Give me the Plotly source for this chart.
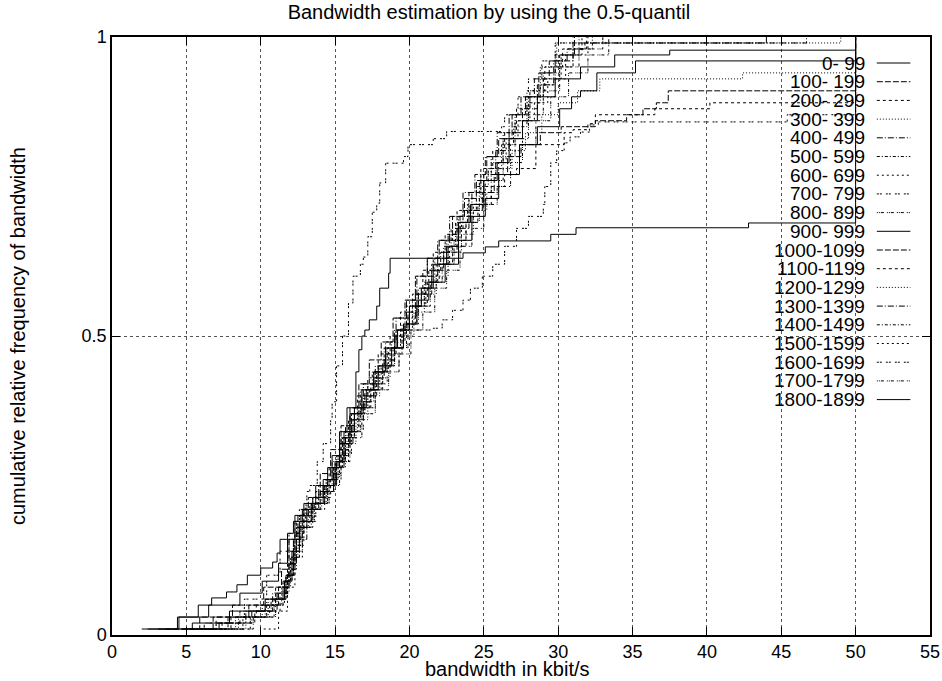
import plotly.graph_objects as go

# interval labels (legend), in gnuplot order
labels = ["0- 99", "100- 199", "200- 299", "300- 399", "400- 499", "500- 599",
          "600- 699", "700- 799", "800- 899", "900- 999", "1000-1099", "1100-1199",
          "1200-1299", "1300-1399", "1400-1499", "1500-1599", "1600-1699",
          "1700-1799", "1800-1899"]

# step points of each cumulative curve: bandwidth (kbit/s) and cumulative frequency
bw_0 = [3.1, 5.4, 7.9, 10.3, 11.6, 12.1, 12.6, 13.4, 14.2, 15.0, 15.6, 16.3, 17.1, 17.9, 18.8, 19.6,
        20.5, 21.3, 22.4, 23.3, 24.2, 25.1, 26.0, 27.4, 28.6, 30.1, 30.9, 31.5, 32.6, 35.2, 50.0]
cf_0 = [0.01, 0.02, 0.04, 0.06, 0.09, 0.14, 0.19, 0.22, 0.25, 0.29, 0.34, 0.38, 0.41, 0.45, 0.48, 0.52,
        0.56, 0.59, 0.62, 0.66, 0.70, 0.73, 0.77, 0.82, 0.85, 0.88, 0.90, 0.91, 0.94, 0.96, 1.0]

bw_1 = [4.6, 6.8, 9.2, 11.2, 11.9, 12.4, 13.1, 14.0, 14.9, 15.5, 16.1, 16.8, 17.6, 18.4, 19.1, 19.9,
        20.6, 21.5, 22.3, 23.2, 24.0, 24.9, 25.7, 26.6, 27.5, 28.8, 30.2, 32.5, 34.6, 35.7, 36.6, 37.4, 50.0]
cf_1 = [0.01, 0.03, 0.05, 0.08, 0.12, 0.18, 0.21, 0.24, 0.28, 0.33, 0.37, 0.40, 0.44, 0.47, 0.51, 0.54,
        0.57, 0.61, 0.64, 0.68, 0.71, 0.74, 0.77, 0.80, 0.82, 0.84, 0.85, 0.86, 0.87, 0.88, 0.89, 0.91, 1.0]

bw_2 = [5.6, 7.4, 9.6, 11.3, 11.8, 12.3, 12.9, 13.8, 14.7, 15.4, 16.0, 16.6, 17.4, 18.2, 19.0, 19.7,
        20.5, 21.2, 22.0, 22.9, 23.8, 24.6, 25.5, 26.4, 27.2, 28.5, 30.4, 31.0, 32.0, 32.5, 36.5, 40.2, 50.0]
cf_2 = [0.01, 0.02, 0.04, 0.07, 0.11, 0.17, 0.21, 0.23, 0.27, 0.31, 0.35, 0.39, 0.42, 0.46, 0.49, 0.52,
        0.55, 0.59, 0.62, 0.65, 0.69, 0.72, 0.75, 0.77, 0.78, 0.82, 0.84, 0.845, 0.855, 0.87, 0.88, 0.89, 1.0]

bw_3 = [6.0, 8.3, 10.1, 11.4, 12.0, 12.5, 13.2, 14.1, 15.0, 15.7, 16.4, 17.2, 18.0, 18.7, 19.5, 20.3,
        21.0, 21.8, 22.6, 23.5, 24.3, 25.2, 26.0, 26.9, 27.8, 28.9, 30.0, 31.3, 32.8, 42.4, 50.0]
cf_3 = [0.01, 0.03, 0.05, 0.08, 0.13, 0.18, 0.21, 0.24, 0.28, 0.32, 0.36, 0.40, 0.43, 0.47, 0.50, 0.54,
        0.57, 0.60, 0.64, 0.67, 0.71, 0.74, 0.78, 0.81, 0.84, 0.87, 0.89, 0.91, 0.93, 0.94, 1.0]

bw_4 = [5.2, 7.0, 9.0, 10.8, 11.7, 12.2, 12.7, 13.5, 14.4, 15.1, 15.7, 16.3, 16.9, 17.7, 18.4, 19.1,
        19.8, 20.5, 21.2, 21.9, 22.7, 23.6, 24.4, 25.1, 25.9, 26.7, 27.5, 28.4, 29.4, 30.6, 31.8, 46.7]
cf_4 = [0.01, 0.02, 0.04, 0.07, 0.10, 0.16, 0.20, 0.23, 0.26, 0.30, 0.35, 0.38, 0.42, 0.45, 0.49, 0.53,
        0.56, 0.60, 0.63, 0.66, 0.70, 0.74, 0.77, 0.80, 0.84, 0.87, 0.90, 0.93, 0.96, 0.98, 0.99, 1.0]

bw_5 = [5.9, 8.0, 10.4, 11.5, 11.9, 12.4, 13.0, 13.9, 14.8, 15.4, 16.0, 16.7, 17.5, 18.3, 19.0, 19.8,
        20.6, 21.3, 22.1, 22.8, 23.6, 24.5, 25.3, 26.2, 27.0, 27.9, 28.8, 29.8, 31.0, 32.3]
cf_5 = [0.01, 0.03, 0.06, 0.09, 0.14, 0.19, 0.22, 0.25, 0.29, 0.33, 0.37, 0.41, 0.44, 0.48, 0.51, 0.55,
        0.58, 0.61, 0.64, 0.68, 0.71, 0.75, 0.78, 0.82, 0.85, 0.89, 0.92, 0.95, 0.98, 1.0]

bw_6 = [6.3, 8.8, 10.6, 11.6, 12.1, 12.6, 13.3, 14.3, 15.1, 15.9, 16.6, 17.3, 18.1, 18.9, 19.6, 20.4,
        21.1, 21.9, 22.7, 23.4, 24.1, 25.0, 25.8, 26.5, 27.3, 28.1, 29.0, 30.2, 31.6]
cf_6 = [0.01, 0.03, 0.05, 0.09, 0.13, 0.18, 0.22, 0.25, 0.29, 0.34, 0.38, 0.41, 0.45, 0.48, 0.52, 0.55,
        0.59, 0.62, 0.66, 0.69, 0.72, 0.76, 0.79, 0.83, 0.86, 0.90, 0.93, 0.97, 1.0]

bw_7 = [6.7, 9.3, 10.9, 11.8, 12.3, 12.9, 13.7, 14.6, 15.4, 16.1, 16.9, 17.7, 18.5, 19.3, 19.9, 21.6,
        22.2, 22.9, 23.6, 24.1, 24.9, 25.6, 26.4, 27.2, 28.0, 29.0, 29.1, 29.5, 29.9, 30.4, 30.8, 31.5,
        32.1, 32.7, 45.4, 50.0]
cf_7 = [0.01, 0.03, 0.06, 0.10, 0.15, 0.19, 0.22, 0.26, 0.30, 0.34, 0.38, 0.42, 0.45, 0.48, 0.51, 0.513,
        0.527, 0.543, 0.56, 0.58, 0.60, 0.62, 0.65, 0.68, 0.70, 0.72, 0.75, 0.79, 0.81, 0.823, 0.833, 0.841,
        0.853, 0.858, 0.87, 1.0]

bw_8 = [4.0, 6.2, 8.6, 10.7, 11.7, 12.2, 12.8, 13.6, 14.5, 15.3, 16.0, 16.8, 17.7, 18.6, 19.3, 20.1,
        20.9, 21.7, 22.5, 23.4, 24.2, 25.0, 25.9, 26.8, 27.6, 28.5, 29.5, 30.7, 32.0, 33.4]
cf_8 = [0.01, 0.02, 0.04, 0.06, 0.10, 0.15, 0.19, 0.22, 0.25, 0.29, 0.33, 0.37, 0.41, 0.44, 0.47, 0.51,
        0.54, 0.58, 0.61, 0.65, 0.68, 0.72, 0.75, 0.79, 0.82, 0.86, 0.90, 0.94, 0.97, 1.0]

bw_9 = [2.0, 4.4, 5.8, 6.7, 7.7, 8.4, 9.1, 10.0, 10.8, 11.1, 11.3, 11.8, 12.2, 12.8, 13.5, 14.2,
        14.8, 15.3, 15.8, 16.4, 16.6, 16.8, 17.0, 17.3, 17.8, 18.0, 18.6, 18.7, 23.6, 25.1, 26.0, 29.5,
        31.2, 42.8, 50.0]
cf_9 = [0.01, 0.03, 0.05, 0.062, 0.072, 0.084, 0.10, 0.112, 0.122, 0.137, 0.16, 0.17, 0.19, 0.21, 0.23, 0.26,
        0.30, 0.34, 0.38, 0.44, 0.477, 0.50, 0.51, 0.527, 0.55, 0.58, 0.605, 0.63, 0.639, 0.649, 0.659, 0.67,
        0.681, 0.689, 1.0]

bw_10 = [3.6, 5.9, 8.1, 10.2, 11.4, 11.9, 12.5, 13.2, 14.0, 14.7, 15.4, 16.0, 16.6, 17.3, 18.1, 18.9,
         19.7, 20.4, 21.2, 22.0, 22.9, 23.7, 24.5, 25.2, 26.0, 26.9, 27.8, 28.7, 29.8, 31.1]
cf_10 = [0.01, 0.03, 0.05, 0.08, 0.11, 0.16, 0.20, 0.23, 0.27, 0.31, 0.35, 0.38, 0.42, 0.46, 0.49, 0.53,
         0.56, 0.60, 0.63, 0.66, 0.70, 0.73, 0.76, 0.80, 0.83, 0.87, 0.90, 0.94, 0.97, 1.0]

bw_11 = [5.5, 7.8, 9.7, 11.0, 11.8, 12.3, 12.9, 13.7, 14.6, 15.3, 15.9, 16.5, 17.2, 17.9, 18.7, 19.4,
         20.2, 20.9, 21.6, 22.4, 23.2, 24.0, 24.8, 25.6, 26.4, 27.2, 28.1, 29.1, 30.3, 31.9]
cf_11 = [0.01, 0.03, 0.05, 0.08, 0.12, 0.17, 0.21, 0.24, 0.28, 0.32, 0.36, 0.40, 0.43, 0.47, 0.50, 0.54,
         0.57, 0.61, 0.64, 0.67, 0.71, 0.74, 0.78, 0.81, 0.84, 0.88, 0.91, 0.95, 0.98, 1.0]

bw_12 = [6.6, 9.0, 10.5, 11.7, 12.2, 12.8, 13.6, 14.4, 15.2, 15.8, 16.5, 17.2, 18.0, 18.8, 19.5, 20.2,
         21.0, 21.7, 22.5, 23.3, 24.0, 24.8, 25.5, 26.3, 27.1, 27.9, 28.8, 29.9, 49.0]
cf_12 = [0.01, 0.03, 0.06, 0.10, 0.14, 0.19, 0.22, 0.26, 0.30, 0.34, 0.38, 0.42, 0.45, 0.49, 0.52, 0.56,
         0.59, 0.63, 0.66, 0.70, 0.73, 0.77, 0.80, 0.84, 0.87, 0.91, 0.95, 0.99, 1.0]

bw_13 = [5.0, 7.2, 9.4, 11.1, 11.9, 12.4, 13.1, 13.9, 14.9, 15.6, 16.2, 16.9, 17.6, 18.3, 19.0, 19.7,
         20.4, 21.1, 21.9, 22.6, 23.4, 24.2, 25.0, 25.8, 26.7, 27.6, 28.6, 29.7, 31.0, 44.0]
cf_13 = [0.01, 0.02, 0.04, 0.07, 0.11, 0.16, 0.21, 0.24, 0.28, 0.32, 0.36, 0.39, 0.43, 0.46, 0.50, 0.53,
         0.57, 0.60, 0.63, 0.67, 0.70, 0.74, 0.77, 0.81, 0.84, 0.88, 0.92, 0.96, 0.99, 1.0]

bw_14 = [6.1, 8.5, 10.3, 11.5, 12.0, 12.6, 13.4, 14.3, 15.1, 15.7, 16.3, 17.0, 17.8, 18.5, 19.2, 20.0,
         20.8, 21.5, 22.3, 23.1, 23.9, 24.7, 25.5, 26.3, 27.1, 28.0, 29.0, 30.1, 31.4]
cf_14 = [0.01, 0.03, 0.05, 0.09, 0.13, 0.18, 0.22, 0.25, 0.29, 0.33, 0.37, 0.40, 0.44, 0.48, 0.51, 0.55,
         0.58, 0.62, 0.65, 0.69, 0.72, 0.76, 0.79, 0.83, 0.86, 0.90, 0.94, 0.97, 1.0]

bw_15 = [10.2, 11.2, 11.8, 12.3, 12.8, 13.5, 14.3, 15.0, 15.6, 16.3, 17.0, 17.8, 18.6, 19.4, 20.2, 21.0,
         21.8, 22.6, 23.5, 24.3, 25.1, 26.0, 26.8, 27.6, 28.4, 29.3, 30.5, 32.0]
cf_15 = [0.01, 0.04, 0.08, 0.13, 0.18, 0.21, 0.25, 0.29, 0.33, 0.37, 0.41, 0.44, 0.48, 0.51, 0.55, 0.58,
         0.62, 0.65, 0.69, 0.72, 0.76, 0.79, 0.82, 0.86, 0.89, 0.93, 0.97, 1.0]

bw_16 = [4.8, 7.0, 8.9, 10.4, 11.3, 11.9, 12.3, 12.6, 13.1, 13.3, 13.8, 14.2, 14.7, 14.8, 15.1, 15.5,
         15.9, 16.2, 16.7, 16.9, 17.2, 17.5, 17.8, 18.0, 18.4, 19.6, 19.9, 21.6, 22.5, 26.2, 26.4, 27.3,
         28.0, 28.9, 29.8, 31.0]
cf_16 = [0.01, 0.03, 0.06, 0.10, 0.14, 0.17, 0.19, 0.21, 0.24, 0.25, 0.29, 0.32, 0.36, 0.39, 0.45, 0.50,
         0.555, 0.60, 0.62, 0.632, 0.666, 0.707, 0.722, 0.756, 0.789, 0.80, 0.82, 0.83, 0.842, 0.85, 0.87, 0.90,
         0.93, 0.96, 0.99, 1.0]

bw_17 = [7.1, 9.5, 11.0, 11.7, 12.2, 12.7, 13.5, 14.5, 15.2, 15.9, 16.7, 17.4, 18.2, 19.0, 19.8, 20.6,
         21.4, 22.2, 23.0, 23.8, 24.7, 25.5, 26.3, 27.1, 28.0, 29.0, 30.1, 31.4, 33.0]
cf_17 = [0.01, 0.03, 0.06, 0.10, 0.15, 0.19, 0.22, 0.26, 0.30, 0.34, 0.38, 0.41, 0.45, 0.48, 0.52, 0.55,
         0.59, 0.62, 0.66, 0.69, 0.73, 0.76, 0.80, 0.83, 0.87, 0.91, 0.95, 0.98, 1.0]

bw_18 = [2.4, 4.5, 6.5, 8.6, 10.1, 11.2, 11.8, 12.3, 12.9, 13.7, 14.5, 15.3, 16.0, 16.8, 17.6, 18.4,
         19.2, 20.0, 20.8, 21.6, 22.5, 23.3, 24.1, 25.0, 25.9, 26.7, 27.6, 28.6, 29.8, 31.5, 33.8, 37.5, 50.0]
cf_18 = [0.01, 0.03, 0.05, 0.07, 0.09, 0.12, 0.16, 0.20, 0.22, 0.25, 0.28, 0.32, 0.37, 0.41, 0.44, 0.48,
         0.51, 0.55, 0.58, 0.62, 0.65, 0.69, 0.72, 0.76, 0.79, 0.83, 0.86, 0.90, 0.93, 0.95, 0.97, 0.978, 1.0]

bws = [bw_0, bw_1, bw_2, bw_3, bw_4, bw_5, bw_6, bw_7, bw_8, bw_9,
       bw_10, bw_11, bw_12, bw_13, bw_14, bw_15, bw_16, bw_17, bw_18]
cfs = [cf_0, cf_1, cf_2, cf_3, cf_4, cf_5, cf_6, cf_7, cf_8, cf_9,
       cf_10, cf_11, cf_12, cf_13, cf_14, cf_15, cf_16, cf_17, cf_18]

# gnuplot postscript line types 1..9, repeating
dashes = ["solid", "6px,2px", "3px,3px", "1px,2px", "6px,2px,1px,2px",
          "3px,2px,1px,2px", "2px,3px", "2px,1px,2px,4px", "1px,1px,1px,1px,3px,3px"]

FONT = "Liberation Sans, Arial, sans-serif"

fig = go.Figure()
for i, lab in enumerate(labels):
    fig.add_trace(go.Scatter(x=bws[i], y=cfs[i], mode="lines", name=lab,
                             line=dict(color="black", width=1, shape="hv", dash=dashes[i % 9])))

# gnuplot-style key: right-aligned text, sample line to the right
shapes = []
annos = []
for i, lab in enumerate(labels):
    yp = 0.9565 - i * 0.03127
    annos.append(dict(x=0.9225, y=yp, xref="paper", yref="paper", text=lab, showarrow=False,
                      xanchor="right", yanchor="middle", font=dict(size=19, color="black", family=FONT)))
    shapes.append(dict(type="line", xref="paper", yref="paper", x0=0.935, x1=0.976, y0=yp, y1=yp,
                       line=dict(color="black", width=1, dash=dashes[i % 9])))

annos.append(dict(x=0.483, y=-0.0565, xref="paper", yref="paper", text="bandwidth in kbit/s",
                  showarrow=False, xanchor="center", yanchor="middle",
                  font=dict(size=20, color="black", family=FONT)))
annos.append(dict(x=-0.1149, y=0.5, xref="paper", yref="paper", text="cumulative relative frequency of bandwidth",
                  showarrow=False, xanchor="center", yanchor="middle", textangle=-90,
                  font=dict(size=20, color="black", family=FONT)))

fig.update_layout(
    width=942, height=681, autosize=False,
    margin=dict(l=112, r=12, t=37, b=46),
    plot_bgcolor="white", paper_bgcolor="white",
    showlegend=False,
    title=dict(text="Bandwidth estimation by using the 0.5-quantil", x=0.519, xref="container",
               xanchor="center", y=0.982, yanchor="middle",
               font=dict(size=20, color="black", family=FONT)),
    shapes=shapes, annotations=annos,
    font=dict(family=FONT, color="black"),
)
fig.update_xaxes(range=[0, 55], tickmode="array", tickvals=list(range(0, 56, 5)), automargin=False,
                 ticks="inside", ticklen=8, tickcolor="black", showline=True, linecolor="black",
                 linewidth=1.5, mirror="ticks", showgrid=True, gridcolor="#555555", griddash="dot",
                 gridwidth=1, zeroline=False, tickfont=dict(size=18, family=FONT, color="black"))
fig.update_yaxes(range=[0, 1], tickmode="array", tickvals=[0, 0.5, 1], ticktext=["0", "0.5", "1"],
                 automargin=False,
                 ticks="inside", ticklen=8, tickcolor="black", showline=True, linecolor="black",
                 linewidth=1.5, mirror="ticks", showgrid=True, gridcolor="#555555", griddash="dot",
                 gridwidth=1, zeroline=False, tickfont=dict(size=18, family=FONT, color="black"))

# no page margin or scrollbars, so the figure sits at the window's corner at full size
fig.write_html("out.html", config={"displayModeBar": False, "responsive": False},
               post_script="document.body.style.margin='0';document.body.style.overflow='hidden';")
